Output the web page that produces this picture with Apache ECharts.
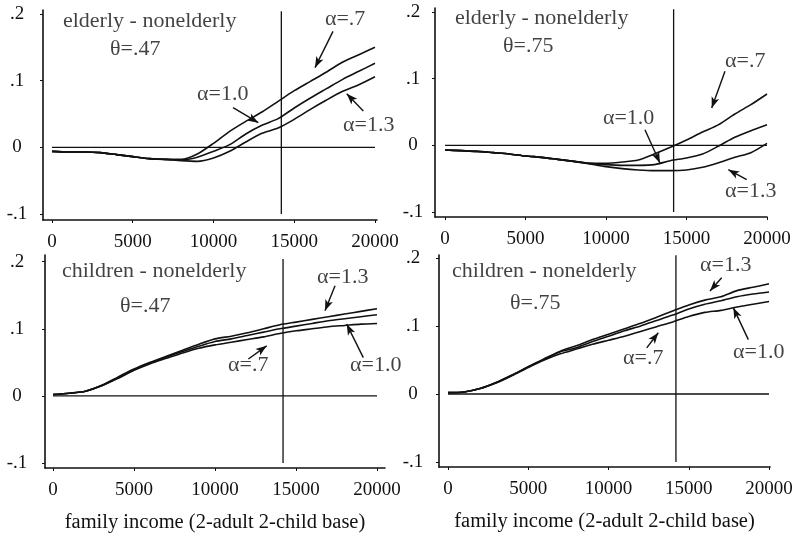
<!DOCTYPE html>
<html><head><meta charset="utf-8">
<script src="https://cdn.jsdelivr.net/npm/echarts@6/dist/echarts.min.js"></script>
<style>html,body{margin:0;padding:0;background:#fff}#c{width:796px;height:535px}</style>
</head><body><div id="c"></div>
<script>
// ---------- data ----------
const incomes = [0,1000,2000,3000,4000,5000,6000,7000,8000,9000,10000,11000,12000,13000,14000,15000,16000,17000,18000,19000,20000];
const xTicks = [0,5000,10000,15000,20000];
const yTicks = [-0.1,0,0.1,0.2];
const povertyLine = 14200;

// elderly - nonelderly, theta=.47
const eld47_a07 = [-0.006,-0.007,-0.007,-0.008,-0.011,-0.014,-0.017,-0.018,-0.018,-0.010,0.006,0.024,0.039,0.053,0.069,0.085,0.099,0.113,0.128,0.139,0.150];
const eld47_a10 = [-0.006,-0.007,-0.007,-0.008,-0.011,-0.014,-0.017,-0.018,-0.019,-0.015,-0.006,0.004,0.020,0.033,0.043,0.059,0.074,0.088,0.102,0.114,0.126];
const eld47_a13 = [-0.006,-0.007,-0.007,-0.008,-0.011,-0.014,-0.017,-0.018,-0.020,-0.021,-0.016,-0.006,0.008,0.021,0.029,0.042,0.057,0.071,0.084,0.094,0.106];
// elderly - nonelderly, theta=.75
const eld75_a07 = [-0.007,-0.008,-0.009,-0.011,-0.013,-0.016,-0.018,-0.021,-0.024,-0.027,-0.027,-0.025,-0.022,-0.013,-0.003,0.008,0.020,0.031,0.047,0.061,0.077];
const eld75_a10 = [-0.007,-0.008,-0.009,-0.011,-0.013,-0.016,-0.018,-0.021,-0.024,-0.027,-0.029,-0.030,-0.030,-0.029,-0.023,-0.019,-0.013,-0.001,0.012,0.022,0.031];
const eld75_a13 = [-0.007,-0.008,-0.009,-0.011,-0.013,-0.016,-0.018,-0.021,-0.024,-0.028,-0.032,-0.035,-0.037,-0.038,-0.038,-0.037,-0.033,-0.026,-0.018,-0.011,0.003];
// children - nonelderly, theta=.47
const chd47_a13 = [0.002,0.004,0.007,0.016,0.028,0.040,0.050,0.059,0.068,0.077,0.085,0.089,0.094,0.100,0.106,0.110,0.114,0.118,0.122,0.126,0.130];
const chd47_a10 = [0.002,0.004,0.007,0.015,0.027,0.039,0.049,0.058,0.066,0.074,0.081,0.085,0.090,0.095,0.100,0.104,0.108,0.112,0.115,0.118,0.121];
const chd47_a07 = [0.002,0.004,0.007,0.015,0.026,0.038,0.048,0.056,0.064,0.071,0.076,0.080,0.084,0.088,0.093,0.097,0.100,0.103,0.105,0.107,0.108];
// children - nonelderly, theta=.75
const chd75_a13 = [0.002,0.003,0.008,0.017,0.028,0.040,0.052,0.063,0.071,0.080,0.088,0.096,0.104,0.113,0.122,0.131,0.138,0.143,0.152,0.157,0.162];
const chd75_a10 = [0.002,0.003,0.008,0.017,0.028,0.040,0.051,0.062,0.068,0.077,0.085,0.093,0.100,0.108,0.116,0.125,0.132,0.137,0.143,0.147,0.150];
const chd75_a07 = [0.002,0.003,0.008,0.016,0.027,0.039,0.050,0.059,0.066,0.073,0.079,0.085,0.092,0.099,0.106,0.114,0.120,0.123,0.128,0.132,0.136];

// ---------- annotations (data coordinates) ----------
const texts1 = [[680,0.189,'elderly - nonelderly'],[3590,0.147,'θ=.47'],[16900,0.192,'α=.7'],[8980,0.0795,'α=1.0'],[18020,0.033,'α=1.3']];
const arrows1 = [[17400,0.174,16285,0.1195],[11210,0.0595,12775,0.037],[19275,0.0545,18250,0.0805]];
const texts2 = [[620,0.191,'elderly - nonelderly'],[3600,0.149,'θ=.75'],[17390,0.1255,'α=.7'],[9810,0.040,'α=1.0'],[17390,-0.069,'α=1.3']];
const arrows2 = [[17390,0.111,16565,0.056],[12420,0.0235,13350,-0.0265],[18740,-0.0515,17600,-0.0365]];
const texts3 = [[555,0.1855,'children - nonelderly'],[4140,0.133,'θ=.47'],[16300,0.177,'α=1.3'],[10800,0.046,'α=.7'],[18330,0.046,'α=1.0']];
const arrows3 = [[17410,0.164,16790,0.127],[12060,0.055,13190,0.0746],[19155,0.057,18130,0.107]];
const texts4 = [[250,0.18,'children - nonelderly'],[3860,0.133,'θ=.75'],[15700,0.19,'α=1.3'],[10900,0.053,'α=.7'],[17760,0.0615,'α=1.0']];
const arrows4 = [[17050,0.171,16320,0.1515],[12380,0.0677,13100,0.09],[18710,0.080,17775,0.127]];

const xTitle = 'family income (2-adult 2-child base)';

// ---------- layout ----------
const layouts = [
  {left:43, top:10, width:334, height:210, xMin:-557, xMax:20124, yMin:-0.109, yMax:0.206, yMargin:26, title:false},
  {left:435, top:8, width:332, height:209, xMin:-620, xMax:20000, yMin:-0.1075, yMax:0.206, yMargin:22, title:false},
  {left:45, top:255, width:340, height:213, xMin:-494, xMax:20494, yMin:-0.1075, yMax:0.21, yMargin:28, title:true},
  {left:439, top:255, width:331, height:212, xMin:-560, xMax:20060, yMin:-0.1074, yMax:0.2044, yMargin:26, title:true}
];
const panels = [
  {curves:[eld47_a07,eld47_a10,eld47_a13], names:['α=.7','α=1.0','α=1.3'], texts:texts1, arrows:arrows1},
  {curves:[eld75_a07,eld75_a10,eld75_a13], names:['α=.7','α=1.0','α=1.3'], texts:texts2, arrows:arrows2},
  {curves:[chd47_a13,chd47_a10,chd47_a07], names:['α=1.3','α=1.0','α=.7'], texts:texts3, arrows:arrows3},
  {curves:[chd75_a13,chd75_a10,chd75_a07], names:['α=1.3','α=1.0','α=.7'], texts:texts4, arrows:arrows4}
];

const INK = '#111';
const FONT = "'Liberation Serif','Times New Roman',serif";
const fmtY = v => v === 0 ? '0' : (v < 0 ? '-' : '') + String(+Math.abs(v).toFixed(2)).replace(/^0/, '');
const fmtX = v => String(Math.round(v));

const grid = [], xAxis = [], yAxis = [], series = [];
layouts.forEach((L, i) => {
  grid.push({left:L.left, top:L.top, width:L.width, height:L.height, containLabel:false, outerBoundsMode:'none'});
  xAxis.push({
    type:'value', gridIndex:i, min:L.xMin, max:L.xMax,
    axisLine:{show:true, onZero:false, lineStyle:{color:INK, width:1.6}},
    axisTick:{show:true, customValues:xTicks, length:3, lineStyle:{color:INK, width:1}},
    axisLabel:{show:true, customValues:xTicks, margin:13, color:INK, fontFamily:FONT, fontSize:19, formatter:fmtX},
    splitLine:{show:false},
    name: L.title ? xTitle : '', nameLocation:'middle', nameGap:44,
    nameTextStyle:{color:INK, fontFamily:FONT, fontSize:20.5}
  });
  yAxis.push({
    type:'value', gridIndex:i, min:L.yMin, max:L.yMax,
    axisLine:{show:true, onZero:false, lineStyle:{color:INK, width:1.6}},
    axisTick:{show:true, customValues:yTicks, length:3, lineStyle:{color:INK, width:1}},
    axisLabel:{show:true, customValues:yTicks, margin:L.yMargin, align:'center', color:INK, fontFamily:FONT, fontSize:19, formatter:fmtY},
    splitLine:{show:false}
  });
});

panels.forEach((P, i) => {
  P.curves.forEach((vals, k) => {
    series.push({
      type:'line', name:P.names[k], xAxisIndex:i, yAxisIndex:i,
      data: incomes.map((x, j) => [x, vals[j]]),
      showSymbol:false, symbol:'none', smooth:0.25,
      lineStyle:{color:INK, width:1.6}, silent:true
    });
  });
  // zero reference line
  series.push({
    type:'line', xAxisIndex:i, yAxisIndex:i, data:[[incomes[0],0],[incomes[incomes.length-1],0]],
    symbol:'none', lineStyle:{color:INK, width:1.3}, silent:true
  });
  // poverty line (vertical)
  series.push({
    type:'line', xAxisIndex:i, yAxisIndex:i, data:[[povertyLine,yTicks[0]],[povertyLine,0.204]],
    symbol:'none', lineStyle:{color:INK, width:1.3}, silent:true
  });
  // annotations
  series.push({
    type:'scatter', xAxisIndex:i, yAxisIndex:i, symbolSize:0, silent:true,
    data: P.texts.map(t => ({value:[t[0], t[1]], label:{formatter:t[2]}})),
    label:{show:true, position:'right', distance:0, color:INK, fontFamily:FONT, fontSize:22},
    markLine:{
      silent:true, animation:false, symbol:['none','arrow'], symbolSize:[6,11],
      label:{show:false},
      lineStyle:{color:INK, width:1.4, type:'solid'},
      data: P.arrows.map(a => [{coord:[a[0],a[1]]},{coord:[a[2],a[3]]}])
    }
  });
});

const chart = echarts.init(document.getElementById('c'), null, {renderer:'canvas'});
chart.setOption({animation:false, backgroundColor:'#fff', grid, xAxis, yAxis, series, tooltip:{show:false}});
</script>
</body></html>
